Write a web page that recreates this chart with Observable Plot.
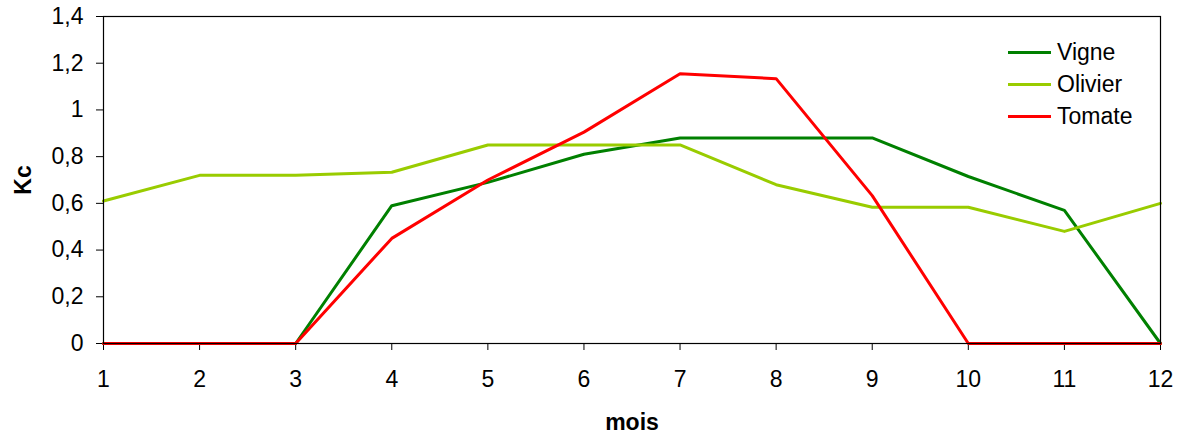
<!DOCTYPE html>
<html>
<head>
<meta charset="utf-8">
<script src="https://cdn.jsdelivr.net/npm/d3@7"></script>
<script src="https://cdn.jsdelivr.net/npm/@observablehq/plot@0.6"></script>
<style>
  html, body { margin: 0; padding: 0; background: #fff; }
  #wrap { position: relative; width: 1182px; height: 434px; font-family: "Liberation Sans", Arial, sans-serif; }
  #legend { position: absolute; left: 1008px; top: 36px; }
  .item { display: flex; align-items: center; height: 32px; font-size: 23px; color: #000; }
  .swatch { width: 43px; height: 3px; margin-right: 6px; }
</style>
</head>
<body>
<div id="wrap"></div>
<script>
const months = [1, 2, 3, 4, 5, 6, 7, 8, 9, 10, 11, 12];
const vigne   = [0, 0, 0, 0.59, 0.69, 0.81, 0.88, 0.88, 0.88, 0.715, 0.57, 0];
const olivier = [0.61, 0.72, 0.72, 0.733, 0.85, 0.85, 0.85, 0.68, 0.583, 0.583, 0.48, 0.60];
const tomate  = [0, 0, 0, 0.45, 0.70, 0.905, 1.155, 1.134, 0.633, 0, 0, 0];
const seriesNames = ["Vigne", "Olivier", "Tomate"];
const seriesColors = ["#008000", "#99CC00", "#FF0000"];
const yTicks = [0, 0.2, 0.4, 0.6, 0.8, 1, 1.2, 1.4];
const yTickLabels = ["0", "0,2", "0,4", "0,6", "0,8", "1", "1,2", "1,4"];
const xTickLabels = ["1", "2", "3", "4", "5", "6", "7", "8", "9", "10", "11", "12"];
const xLabel = "mois";
const yLabel = "Kc";

const seriesValues = [vigne, olivier, tomate];
const rows = seriesNames.flatMap((name, i) =>
  months.map((m, j) => ({series: name, mois: m, kc: seriesValues[i][j]}))
);

const plot = Plot.plot({
  width: 1182,
  height: 434,
  marginLeft: 103,
  marginRight: 22,
  marginTop: 16,
  marginBottom: 91,
  style: {fontSize: "23px", fontFamily: "'Liberation Sans', Arial, sans-serif", color: "#000", background: "#fff"},
  x: {domain: [1, 12]},
  y: {domain: [0, 1.4]},
  color: {domain: seriesNames, range: seriesColors},
  marks: [
    Plot.axisY({ticks: yTicks, tickSize: 7, label: null, tickFormat: () => "", stroke: "#000"}),
    Plot.axisX({ticks: months, tickSize: 7, label: null, tickFormat: () => "", stroke: "#000"}),
    Plot.text(yTicks, {y: d => d, text: (d, i) => yTickLabels[i], frameAnchor: "left", dx: -20,
      textAnchor: "end", lineAnchor: "middle", fontSize: 23, fill: "#000"}),
    Plot.text(months, {x: d => d, text: (d, i) => xTickLabels[i], frameAnchor: "bottom", dy: 27,
      textAnchor: "middle", lineAnchor: "top", fontSize: 23, fill: "#000"}),
    Plot.line(rows, {x: "mois", y: "kc", z: "series", stroke: "series", strokeWidth: 3, strokeLinejoin: "round"}),
    Plot.frame({stroke: "#000", strokeWidth: 1.2}),
    Plot.text([yLabel], {frameAnchor: "left", dx: -73, rotate: -90, lineAnchor: "bottom", textAnchor: "middle", fontWeight: "bold", fontSize: 23}),
    Plot.text([xLabel], {frameAnchor: "bottom", dy: 86, lineAnchor: "bottom", textAnchor: "middle", fontWeight: "bold", fontSize: 23})
  ]
});

const wrap = document.getElementById("wrap");
wrap.appendChild(plot);

const legend = document.createElement("div");
legend.id = "legend";
seriesNames.forEach((name, i) => {
  const item = document.createElement("div");
  item.className = "item";
  const sw = document.createElement("div");
  sw.className = "swatch";
  sw.style.background = seriesColors[i];
  const label = document.createElement("span");
  label.textContent = name;
  item.appendChild(sw);
  item.appendChild(label);
  legend.appendChild(item);
});
wrap.appendChild(legend);
</script>
</body>
</html>
